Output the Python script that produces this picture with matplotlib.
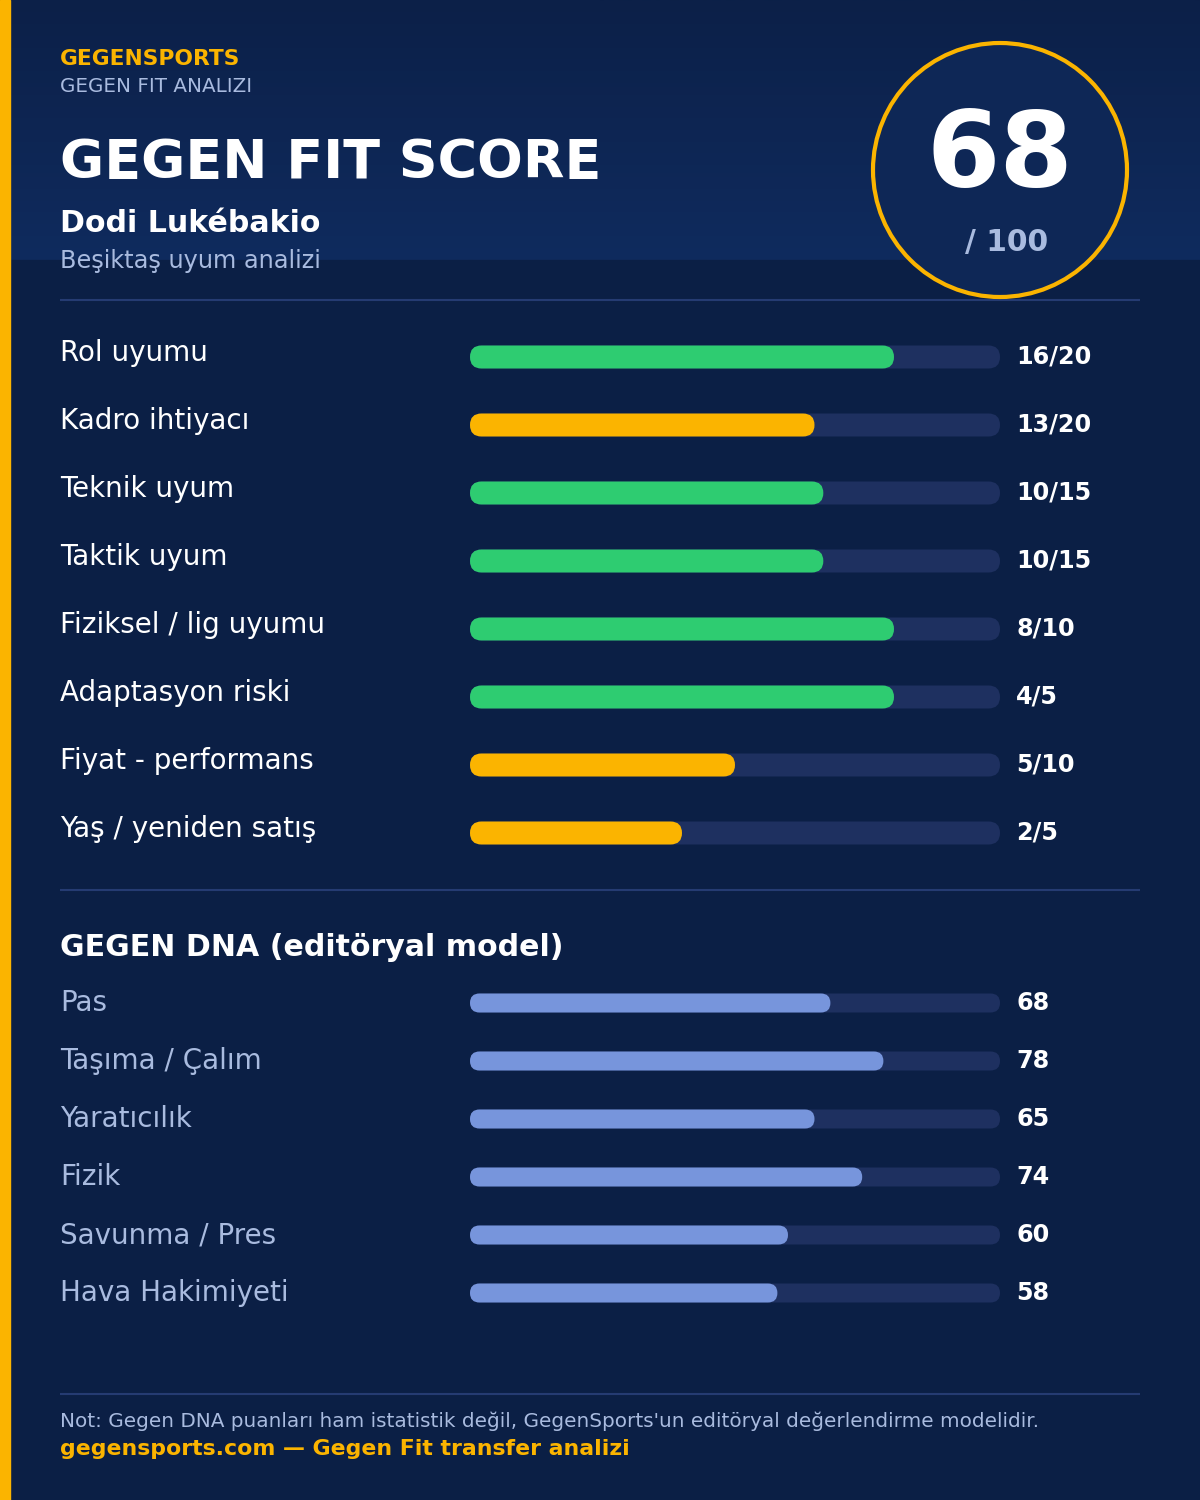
import matplotlib
matplotlib.use("Agg")
import matplotlib.pyplot as plt
import numpy as np
from matplotlib.patches import FancyBboxPatch, Circle, Rectangle
from matplotlib.colors import LinearSegmentedColormap

plt.rcParams['font.family'] = ['DejaVu Sans']

# ---- data ----
brand = "GEGENSPORTS"
subtitle = "GEGEN FIT ANALIZI"
title = "GEGEN FIT SCORE"
player = "Dodi Lukébakio"
club_line = "Beşiktaş uyum analizi"
total_score = 68
total_max = 100

fit_labels = ["Rol uyumu", "Kadro ihtiyacı", "Teknik uyum", "Taktik uyum",
              "Fiziksel / lig uyumu", "Adaptasyon riski", "Fiyat - performans",
              "Yaş / yeniden satış"]
fit_scores = [16, 13, 10, 10, 8, 4, 5, 2]
fit_max = [20, 20, 15, 15, 10, 5, 10, 5]

dna_title = "GEGEN DNA (editöryal model)"
dna_labels = ["Pas", "Taşıma / Çalım", "Yaratıcılık", "Fizik", "Savunma / Pres",
              "Hava Hakimiyeti"]
dna_values = [68, 78, 65, 74, 60, 58]
dna_max = 100

note = "Not: Gegen DNA puanları ham istatistik değil, GegenSports'un editöryal değerlendirme modelidir."
footer = "gegensports.com — Gegen Fit transfer analizi"

# ---- style ----
BG = "#0b1f45"
HEAD_TOP = "#0c2048"
HEAD_BOT = "#0f2b5e"
YELLOW = "#fbb400"
GREEN = "#2ecc71"
DNA_C = "#7795dc"
TRACK = "#1e3060"
SEP = "#253b72"
MUTED = "#a9bbdf"
WHITE = "#ffffff"

W, H = 1200, 1500
fig = plt.figure(figsize=(W / 100, H / 100), dpi=100, facecolor=BG)
ax = fig.add_axes([0, 0, 1, 1])
ax.set_xlim(0, W)
ax.set_ylim(H, 0)
ax.axis("off")
ax.set_facecolor(BG)

# header gradient
grad = np.linspace(0, 1, 256).reshape(-1, 1)
cmap = LinearSegmentedColormap.from_list("hd", [HEAD_TOP, HEAD_BOT])
ax.imshow(grad, extent=[0, W, 260, 0], cmap=cmap, aspect="auto", zorder=0)
ax.add_patch(Rectangle((0, 260), W, H - 260, color=BG, zorder=0))
# left stripe
ax.add_patch(Rectangle((0, 0), 10, H, color=YELLOW, zorder=5))

LX = 60
ax.text(LX, 59, brand, color=YELLOW, fontsize=15.7, fontweight="bold", va="center")
ax.text(LX, 86, subtitle, color=MUTED, fontsize=14.3, va="center")
ax.text(LX, 163, title, color=WHITE, fontsize=38.8, fontweight="bold", va="center")
ax.text(LX, 223, player, color=WHITE, fontsize=21.6, fontweight="bold", va="center")
ax.text(LX, 261, club_line, color=MUTED, fontsize=17.3, va="center")

# score circle
ax.add_patch(Circle((1000, 170), 127, facecolor="#0e2756", edgecolor=YELLOW,
                    linewidth=3, zorder=3))
ax.text(1000, 158, f"{total_score}", color=WHITE, fontsize=76, fontweight="bold",
        ha="center", va="center", zorder=4)
ax.text(1007, 243, f"/ {total_max}", color=MUTED, fontsize=21.4, fontweight="bold",
        ha="center", va="center", zorder=4)

# separators
for y in (300, 890, 1394):
    ax.plot([LX, 1140], [y, y], color=SEP, linewidth=1.5, solid_capstyle="butt")

TX0, TW = 470, 530


def rbar(x, yc, w, h, color, z):
    if w <= 0:
        return
    ax.add_patch(FancyBboxPatch((x, yc - h / 2), w, h,
                                boxstyle=f"round,pad=0,rounding_size={h / 2}",
                                facecolor=color, edgecolor="none", zorder=z,
                                mutation_aspect=1))


# fit rows
for i, (lab, s, m) in enumerate(zip(fit_labels, fit_scores, fit_max)):
    yc = 357 + i * 68
    ax.text(LX, yc - 4, lab, color=WHITE, fontsize=20, va="center")
    rbar(TX0, yc, TW, 23, TRACK, 2)
    frac = s / m
    col = GREEN if frac >= 0.66 else YELLOW
    rbar(TX0, yc, TW * frac, 23, col, 3)
    ax.text(1016, yc, f"{s}/{m}", color=WHITE, fontsize=17.2, fontweight="bold",
            va="center")

# DNA
ax.text(LX, 947, dna_title, color=WHITE, fontsize=21.6, fontweight="bold", va="center")
for i, (lab, v) in enumerate(zip(dna_labels, dna_values)):
    yc = 1003 + i * 58
    ax.text(LX, yc, lab, color=MUTED, fontsize=20, va="center")
    rbar(TX0, yc, TW, 19, TRACK, 2)
    rbar(TX0, yc, TW * v / dna_max, 19, DNA_C, 3)
    ax.text(1016, yc, f"{v}", color=WHITE, fontsize=17.2, fontweight="bold",
            va="center")

ax.text(LX, 1421, note, color=MUTED, fontsize=14.4, va="center")
ax.text(LX, 1449, footer, color=YELLOW, fontsize=15.8, fontweight="bold", va="center")

fig.savefig("out.png", dpi=100, facecolor=BG)
